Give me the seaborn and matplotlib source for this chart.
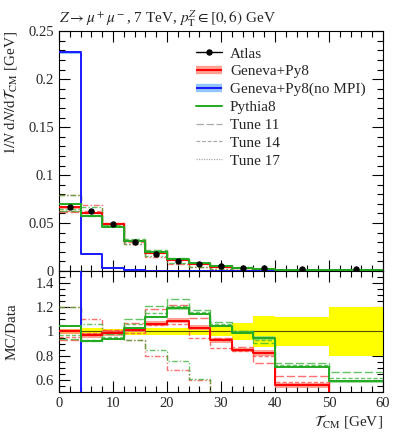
import numpy as np
import pandas as pd
import matplotlib
matplotlib.use("Agg")
import matplotlib.pyplot as plt
import seaborn as sns
from matplotlib.lines import Line2D
from matplotlib.ticker import MultipleLocator, FuncFormatter

# bin edges of T_CM [GeV]
edges = [0, 4, 8, 12, 16, 20, 24, 28, 32, 36, 40, 50, 60]

# ATLAS data, 1/N dN/dT_CM
atlas = [0.0663, 0.0628, 0.0493, 0.0305, 0.0180, 0.0104, 0.0072, 0.0048, 0.0037, 0.0028, 0.0020, 0.0017]
atlas_err = [0.0013, 0.0019, 0.0010, 0.0009, 0.0005, 0.0003, 0.0002, 0.0002, 0.00026, 0.00036, 0.00024, 0.00034]

# Geneva+Py8
geneva = [0.0663, 0.06073, 0.04856, 0.03087, 0.01917, 0.01132, 0.00742, 0.00445, 0.00313, 0.00231, 0.00111, 0.000765]
geneva_rel = [0.02, 0.02, 0.02, 0.02, 0.02, 0.02, 0.02, 0.02, 0.02, 0.03, 0.035, 0.05]

# Geneva+Py8 (no MPI)
geneva_nompi = [0.2278, 0.0180, 0.0035, 0.0010, 0.0004, 0.0002, 0.0001, 0.0001, 0.00005, 0.00005, 0.00002, 0.00001]
geneva_nompi_err = [0.002, 0.0008, 0.0003, 0.0002, 0.0001, 0.0001, 0.00005, 0.00005, 0.00003, 0.00003, 0.00001, 0.00001]

# Pythia8
pythia = [0.06942, 0.05759, 0.04619, 0.03132, 0.02016, 0.01238, 0.00824, 0.00502, 0.00366, 0.00265, 0.00141, 0.00100]
pythia_rel = [0.008, 0.008, 0.008, 0.008, 0.01, 0.01, 0.01, 0.01, 0.012, 0.015, 0.015, 0.02]

# tune variations
geneva_t11 = [0.06166, 0.06092, 0.04930, 0.03264, 0.02142, 0.01269, 0.00799, 0.00456, 0.00322, 0.00207, 0.00126, 0.000765]
geneva_t14 = [0.06299, 0.06217, 0.04979, 0.03020, 0.01890, 0.01102, 0.00684, 0.00413, 0.00311, 0.00224, 0.00116, 0.000765]
geneva_t17 = [0.07956, 0.06908, 0.04979, 0.02837, 0.01440, 0.00707, 0.00432, 0.00192, 0.00148, 0.00112, 0.00080, 0.00068]
pythia_t11 = [0.06232, 0.05778, 0.04807, 0.03370, 0.02178, 0.01321, 0.00850, 0.00518, 0.00372, 0.00254, 0.00148, 0.00113]
pythia_t14 = [0.06431, 0.05840, 0.04708, 0.03233, 0.02070, 0.01258, 0.00835, 0.00509, 0.00370, 0.00260, 0.00144, 0.00105]
pythia_t17 = [0.07956, 0.06657, 0.04881, 0.02837, 0.01530, 0.00790, 0.00436, 0.00192, 0.00148, 0.00112, 0.00080, 0.00068]

sns.set_style("ticks")
plt.rcParams['font.family'] = ['Liberation Serif', 'DejaVu Serif']
plt.rcParams['mathtext.fontset'] = 'stix'
plt.rcParams['axes.linewidth'] = 0.8

RED, RED_BAND = '#ff0000', '#ff8878'
BLUE, BLUE_BAND = '#1a1aff', '#7ab8ff'
GREEN, GREEN_BAND = '#22aa22', '#88d888'
LS11, LS14, LS17 = (0, (6, 2)), (0, (3, 1.5)), (0, (4, 1.5, 1, 1.5))

ed = np.array(edges, dtype=float)
centers = 0.5 * (ed[1:] + ed[:-1])


def ext(v):
    v = list(v)
    return v + [v[-1]]


def step(axis, vals, color, lw=1.4, ls='-', alpha=1.0, z=3):
    df = pd.DataFrame({'x': edges, 'y': ext(vals)})
    sns.lineplot(data=df, x='x', y='y', drawstyle='steps-post', color=color,
                 linewidth=lw, linestyle=ls, alpha=alpha, ax=axis, zorder=z,
                 estimator=None, sort=False)


def band(axis, lo, hi, color, alpha=0.8, z=2):
    axis.fill_between(edges, ext(lo), ext(hi), step='post', color=color,
                      alpha=alpha, lw=0, zorder=z)


fig = plt.figure(figsize=(3.99, 4.33), dpi=100)
ax = fig.add_axes([0.148, 0.374, 0.812, 0.554])
rx = fig.add_axes([0.148, 0.095, 0.812, 0.279], sharex=ax)

A = np.array(atlas)
G = np.array(geneva)
P = np.array(pythia)
B = np.array(geneva_nompi)

# ---- upper panel ----
band(ax, G * (1 - np.array(geneva_rel)), G * (1 + np.array(geneva_rel)), RED_BAND)
band(ax, B - np.array(geneva_nompi_err), B + np.array(geneva_nompi_err), BLUE_BAND)
band(ax, P * (1 - np.array(pythia_rel)), P * (1 + np.array(pythia_rel)), GREEN_BAND)
for vals, ls in [(geneva_t11, LS11), (geneva_t14, LS14), (geneva_t17, LS17)]:
    step(ax, vals, '#ff4040', lw=1.0, ls=ls, alpha=0.75)
for vals, ls in [(pythia_t11, LS11), (pythia_t14, LS14), (pythia_t17, LS17)]:
    step(ax, vals, '#33b033', lw=1.0, ls=ls, alpha=0.75)
step(ax, geneva, RED)
step(ax, geneva_nompi, BLUE)
step(ax, pythia, GREEN)
ax.errorbar(centers, atlas, yerr=atlas_err, fmt='o', color='black', ms=3.6,
            elinewidth=1, capsize=0, zorder=10)

# ---- ratio panel ----
rel = np.array(atlas_err) / A
band(rx, 1 - rel, 1 + rel, '#ffff00', alpha=1.0, z=1)
rx.axhline(1, color='#555500', lw=0.8, zorder=1.5)
band(rx, (G / A) * (1 - np.array(geneva_rel)), (G / A) * (1 + np.array(geneva_rel)), RED_BAND)
band(rx, (P / A) * (1 - np.array(pythia_rel)), (P / A) * (1 + np.array(pythia_rel)), GREEN_BAND)
for vals, ls in [(geneva_t11, LS11), (geneva_t14, LS14), (geneva_t17, LS17)]:
    step(rx, np.array(vals) / A, '#ff4040', lw=1.0, ls=ls, alpha=0.75)
for vals, ls in [(pythia_t11, LS11), (pythia_t14, LS14), (pythia_t17, LS17)]:
    step(rx, np.array(vals) / A, '#33b033', lw=1.0, ls=ls, alpha=0.75)
step(rx, G / A, RED)
step(rx, B / A, BLUE)
step(rx, P / A, GREEN)

# ---- axes styling ----
fmt = FuncFormatter(lambda v, p: f"{round(v, 3):g}")
for a in (ax, rx):
    a.set_xlim(0, 60)
    a.xaxis.set_major_locator(MultipleLocator(10))
    a.xaxis.set_minor_locator(MultipleLocator(2))
    a.tick_params(which='both', direction='in', top=True, right=True,
                  color='black', labelsize=10.5)
    a.tick_params(which='major', length=8, width=0.8)
    a.tick_params(which='minor', length=4, width=0.8)
    a.yaxis.set_major_formatter(fmt)
    for s in a.spines.values():
        s.set_color('black')
        s.set_linewidth(0.8)

ax.set_ylim(0, 0.25)
ax.set_yticks([0, 0.05, 0.1, 0.15, 0.2, 0.25])
ax.yaxis.set_minor_locator(MultipleLocator(0.01))
ax.tick_params(labelbottom=False)
ax.set_xlabel('')
ax.set_ylabel(r'$1/N\ \mathrm{d}N/\mathrm{d}\mathcal{T}_\mathrm{CM}$ [GeV]', fontsize=11, loc='top')
ax.yaxis.set_label_coords(-0.125, 1.0)
ax.set_title(r'$Z \to \mu^+\mu^-$, 7 TeV, $p_\mathrm{T}^Z \in [0, 6)$ GeV',
             loc='left', fontsize=11, pad=6)

rx.set_ylim(0.5, 1.5)
rx.yaxis.set_major_locator(MultipleLocator(0.2))
rx.yaxis.set_minor_locator(MultipleLocator(0.05))
rx.set_ylabel('MC/Data', fontsize=11)
rx.yaxis.set_label_coords(-0.125, 0.5)
rx.set_xlabel(r'$\mathcal{T}_\mathrm{CM}$ [GeV]', fontsize=11, loc='right')
rx.xaxis.labelpad = 2
xt = [0, 10, 20, 30, 40, 50, 60]
rx.set_xticks(xt)
rx.set_xticklabels([str(v) for v in xt])

# ---- legend ----
handles = [
    Line2D([], [], color='black', marker='o', ms=3.6, lw=1),
    (Line2D([], [], color=RED_BAND, lw=6, alpha=0.8, solid_capstyle='butt'),
     Line2D([], [], color=RED, lw=1.5, solid_capstyle='butt')),
    (Line2D([], [], color=BLUE_BAND, lw=6, alpha=0.8, solid_capstyle='butt'),
     Line2D([], [], color=BLUE, lw=1.5, solid_capstyle='butt')),
    Line2D([], [], color=GREEN, lw=1.4),
    Line2D([], [], color='#aaaaaa', lw=0.9, ls=LS11),
    Line2D([], [], color='#aaaaaa', lw=0.9, ls=LS14),
    Line2D([], [], color='#aaaaaa', lw=0.9, ls=(0, (1, 1))),
]
labels = ['Atlas', 'Geneva+Py8', 'Geneva+Py8(no MPI)', 'Pythia8',
          'Tune 11', 'Tune 14', 'Tune 17']
ax.legend(handles, labels, loc='upper left', bbox_to_anchor=(0.405, 0.96),
          frameon=False, fontsize=11, handlelength=1.7, handletextpad=0.5,
          labelspacing=0.27, borderaxespad=0)

fig.savefig('out.png', dpi=100)
